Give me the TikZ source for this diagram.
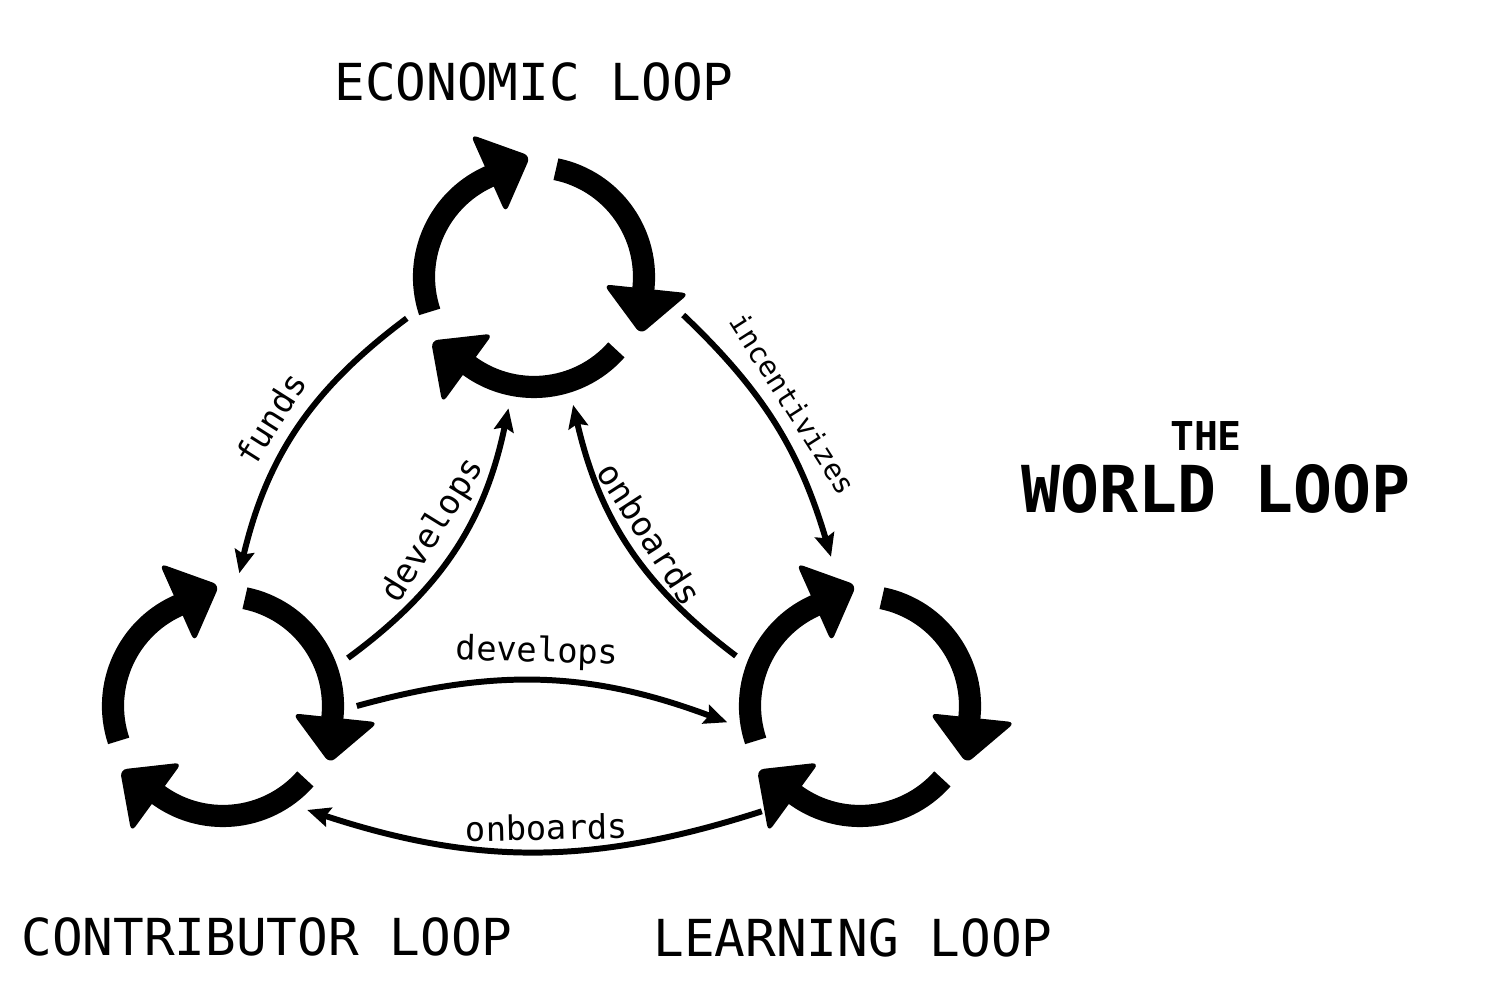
\documentclass[tikz,border=0pt]{standalone}
\usepackage{fontspec}
\setmonofont{DejaVu Sans Mono}
\usepackage{tikz}
\usetikzlibrary{arrows.meta, calc, positioning}
\tikzstyle{loopnode} = [circle, minimum size=2.66cm, inner sep=0pt, draw=none, fill=none]
\tikzstyle{loopline} = [line width=6.3pt]
\tikzstyle{loophead} = [fill=black, rounded corners=2pt]
\tikzstyle{link} = [line width=1.7pt, -{Stealth[length=6.5pt, width=5.6pt, inset=1pt]}]
\tikzstyle{linklabel} = [font=\ttfamily\fontsize{9.6}{11}\selectfont, inner sep=2.4pt, sloped, above]
\tikzstyle{looptitle} = [font=\ttfamily\fontsize{14.5}{17}\selectfont]
% Three fat arrows chasing each other round a loop node
\newcommand{\loopicon}[1]{
    \foreach \b in {114, -6, -126} {
        \draw [loopline] ($(#1)+(\b+84.5:110)$) arc [start angle=\b+84.5, end angle=\b-2, radius=110];
        \fill [loophead] ($(#1)+(\b:70)$) -- ($(#1)+(\b:156)$) -- ($(#1)+(\b:112)+(\b-90:46)$) -- cycle;
    }
}

\begin{document}
\begin{tikzpicture}[x=0.01cm, y=0.01cm]
        \useasboundingbox (0,0) rectangle (1500,1000);
        \node (eco) [loopnode] at (534,723) {};
        \node (con) [loopnode] at (223,294) {};
        \node (lea) [loopnode] at (860,294) {};
        \loopicon{eco}
        \loopicon{con}
        \loopicon{lea}
        % Names of the loops
        \node (ecotitle) [looptitle] at (534,918) {ECONOMIC LOOP};
        \node (contitle) [looptitle] at (267,63) {CONTRIBUTOR LOOP};
        \node (leatitle) [looptitle] at (853,62) {LEARNING LOOP};
        \node (the) [font=\ttfamily\bfseries\fontsize{11.3}{13}\selectfont] at (1206,564) {THE};
        \node (world) [font=\ttfamily\bfseries\fontsize{18.4}{21}\selectfont] at (1216,511) {WORLD LOOP};
        % Free ends that sit further out than the loop nodes
        \coordinate (incfrom) at ($(eco)+(-14.3:154)$);
        \coordinate (incto) at ($(lea)+(101:152)$);
        \coordinate (onbfrom) at ($(lea)+(227:144)$);
        % Links between the loops
        \draw [link] (eco.198) to[bend right=20] node[linklabel, pos=0.52, inner sep=3.4pt] {funds} (con.83);
        \draw [link] (con.21) to[bend right=21] node[linklabel, pos=0.52] {develops} (eco.259);
        \draw [link] (incfrom) to[bend left=15] node[linklabel, pos=0.47, inner sep=3.4pt, font=\ttfamily\fontsize{8.2}{10}\selectfont] {incentivizes} (incto);
        \draw [link] (lea.158) to[bend left=20] node[linklabel, pos=0.5] {onboards} (eco.287);
        \draw [link] (con.0) to[bend left=18] node[linklabel, pos=0.48] {develops} (lea.187);
        \draw [link] (onbfrom) to[bend left=18] node[linklabel, pos=0.47] {onboards} (con.309);
\end{tikzpicture}
\end{document}
